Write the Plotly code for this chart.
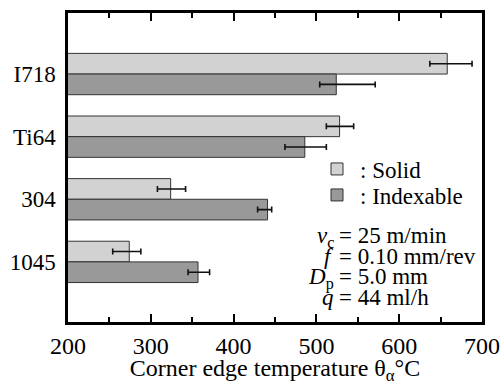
import plotly.graph_objects as go

categories = ["I718", "Ti64", "304", "1045"]
solid = [658, 528, 324, 274]
solid_err_plus = [30, 17, 18, 14]
solid_err_minus = [21, 16, 16, 20]
indexable = [524, 486, 441, 357]
idx_err_plus = [47, 26, 5, 14]
idx_err_minus = [20, 24, 12, 12]
x_ticks = [200, 300, 400, 500, 600, 700]
conditions = [
    ("<i>v</i><sub>c</sub>", "= 25 m/min"),
    ("<i>f</i>", "= 0.10 mm/rev"),
    ("<i>D</i><sub>p</sub>", "= 5.0 mm"),
    ("<i>q</i>", "= 44 ml/h"),
]

FONT = "Liberation Serif"
W, H = 501, 385
ML, MR, MT, MB = 68, 19, 13, 63

fig = go.Figure()
fig.add_trace(go.Bar(
    y=categories, x=solid, orientation="h", name=": Solid", legend="legend",
    marker=dict(color="#d2d2d2", line=dict(color="#333333", width=1)),
    error_x=dict(type="data", symmetric=False, array=solid_err_plus,
                 arrayminus=solid_err_minus, color="#111111", thickness=1.6, width=3),
))
fig.add_trace(go.Bar(
    y=categories, x=indexable, orientation="h", name=": Indexable", legend="legend2",
    marker=dict(color="#999999", line=dict(color="#333333", width=1)),
    error_x=dict(type="data", symmetric=False, array=idx_err_plus,
                 arrayminus=idx_err_minus, color="#111111", thickness=1.6, width=3),
))

pw = W - ML - MR
ph = H - MT - MB
def px(xp):
    return (xp - ML) / pw
def py(yp):
    return (H - MB - yp) / ph

ys = [234, 255, 275, 296]
for (lhs, rhs), yv in zip(conditions, ys):
    fig.add_annotation(x=px(336), y=py(yv - 13), xref="paper", yref="paper",
                       text=lhs, showarrow=False, xanchor="right", yanchor="top",
                       font=dict(family=FONT, size=23, color="black"))
    fig.add_annotation(x=px(337), y=py(yv - 13), xref="paper", yref="paper",
                       text=rhs, showarrow=False, xanchor="left", yanchor="top",
                       font=dict(family=FONT, size=23, color="black"))

leg_common = dict(xanchor="left", yanchor="middle", bgcolor="rgba(0,0,0,0)",
                  font=dict(family=FONT, size=23, color="black"), itemwidth=36)
fig.update_layout(
    width=W, height=H,
    margin=dict(l=ML, r=MR, t=MT, b=MB, autoexpand=False),
    paper_bgcolor="white", plot_bgcolor="white",
    barmode="group", bargap=0.34, bargroupgap=0,
    font=dict(family=FONT, size=24, color="black"),
    showlegend=True,
    legend=dict(x=px(314), y=py(169), **leg_common),
    legend2=dict(x=px(314), y=py(195), **leg_common),
    xaxis=dict(range=[200, 700], tickvals=x_ticks, ticks="inside", ticklen=8,
               tickwidth=1.5, tickcolor="black", automargin=False,
               minor=dict(dtick=50, ticks="inside", ticklen=5, tickwidth=1.5, tickcolor="black"),
               showline=True, linecolor="black", linewidth=2.5, mirror="ticks",
               showgrid=False, zeroline=False,
               title=dict(text="Corner edge temperature θ<sub>α</sub>°C", standoff=8,
                          font=dict(family=FONT, size=24)),
               tickfont=dict(family=FONT, size=24)),
    yaxis=dict(categoryorder="array", categoryarray=categories, automargin=False,
               range=[3.96, -0.975], ticks="", showline=True, linecolor="black",
               linewidth=2.5, mirror=True, showgrid=False, zeroline=False,
               ticklabelstandoff=5, tickfont=dict(family=FONT, size=23)),
)

fig.write_html("out.html")
